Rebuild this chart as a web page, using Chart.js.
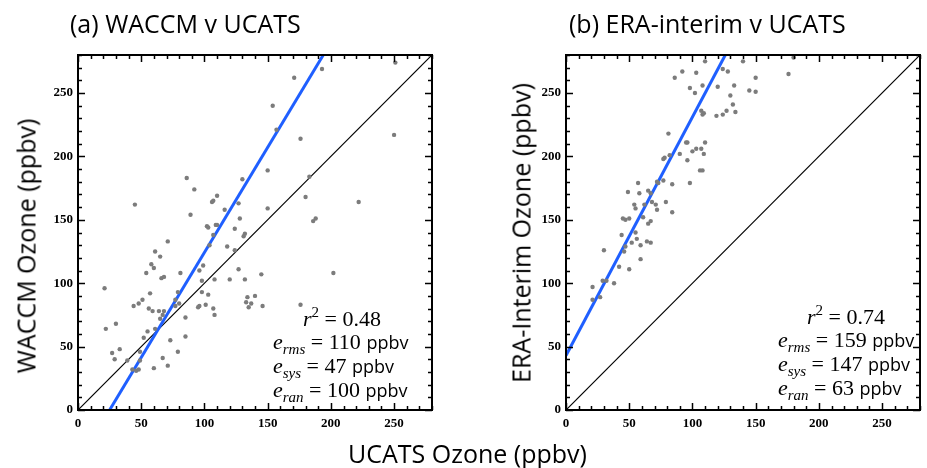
<!DOCTYPE html>
<html>
<head>
<meta charset="utf-8">
<script src="https://cdn.jsdelivr.net/npm/chart.js@4.4.0/dist/chart.umd.min.js"></script>
<style>
  body { margin: 0; background: #fff; }
  #page { position: relative; width: 927px; height: 468px; overflow: hidden; font-family: "Open Sans", sans-serif; color: #000; }
  canvas { position: absolute; top: 0; }
  #chartA { left: 0; }
  #chartB { left: 470px; }
  .title { position: absolute; font-size: 25px; line-height: 1; white-space: nowrap; }
  .ytitle { position: absolute; font-size: 25px; line-height: 1; white-space: nowrap; transform: translate(-50%, -50%) rotate(-90deg); }
  .stat { position: absolute; white-space: nowrap; font-family: "Liberation Serif", serif; font-size: 22px; line-height: 1; }
  .stat i { font-style: italic; }
  .stat sub { font-size: 15px; font-style: italic; vertical-align: -5px; line-height: 0; }
  .stat sup { font-size: 15px; vertical-align: 9px; line-height: 0; }
  .stat .u { font-family: "Open Sans", sans-serif; font-size: 18px; }
</style>
</head>
<body>
<div id="page">
  <canvas id="chartA" width="463" height="468"></canvas>
  <canvas id="chartB" width="457" height="468"></canvas>

  <div class="title" style="left:70px; top:11px;">(a) WACCM v UCATS</div>
  <div class="title" style="left:569px; top:11px;">(b) ERA-interim v UCATS</div>
  <div class="title" style="left:348px; top:441px;">UCATS Ozone (ppbv)</div>
  <div class="ytitle" style="left:26px; top:246px;">WACCM Ozone (ppbv)</div>
  <div class="ytitle" style="left:521px; top:233px;">ERA-Interim Ozone (ppbv)</div>

  <div class="stat" style="left:303px; top:308px;"><i>r</i><sup>2</sup> = 0.48</div>
  <div class="stat" style="left:273px; top:331px;"><i>e</i><sub>rms</sub> = 110 <span class="u">ppbv</span></div>
  <div class="stat" style="left:273px; top:355px;"><i>e</i><sub>sys</sub> = 47 <span class="u">ppbv</span></div>
  <div class="stat" style="left:273px; top:379px;"><i>e</i><sub>ran</sub> = 100 <span class="u">ppbv</span></div>

  <div class="stat" style="left:807px; top:306px;"><i>r</i><sup>2</sup> = 0.74</div>
  <div class="stat" style="left:778px; top:329px;"><i>e</i><sub>rms</sub> = 159 <span class="u">ppbv</span></div>
  <div class="stat" style="left:778px; top:353px;"><i>e</i><sub>sys</sub> = 147 <span class="u">ppbv</span></div>
  <div class="stat" style="left:778px; top:377px;"><i>e</i><sub>ran</sub> = 63 <span class="u">ppbv</span></div>
</div>

<script>
// Panel (a): UCATS vs WACCM ozone (ppbv)
const ucatsA = [45, 86, 92, 89, 102, 103, 110, 106, 107, 109, 110, 116, 107, 130, 127, 128, 124, 132, 131,
  150, 150, 154, 157, 171, 176, 193, 251, 250, 183, 180, 222, 188, 186, 202, 176,
  71, 21, 22, 30, 27, 33, 29, 39, 44, 48, 51, 54, 57, 58, 60, 61, 65, 56, 59, 55, 52, 64, 66, 68, 68, 67, 65, 61,
  49, 49, 46, 48, 43, 60, 67, 71, 73, 79, 77, 77, 80, 81, 85, 85, 79, 96, 99, 98, 98, 96, 95, 101, 103, 107, 108,
  108, 104, 118, 124, 120, 127, 132, 134, 133, 135, 137, 140, 145, 146];
const waccm = [162, 183, 174, 154, 145, 144, 169, 164, 165, 146, 146, 158, 138, 182, 163, 151, 143, 139, 137,
  189, 159, 240, 221, 262, 214, 269, 274, 217, 184, 168, 164, 151, 149, 108, 83,
  133, 96, 64, 68, 45, 48, 40, 39, 82, 84, 87, 108, 92, 115, 112, 125, 121, 80, 78, 62, 57, 78, 104, 105, 78, 75, 72, 64,
  46, 39, 31, 32, 32, 33, 41, 35, 55, 93, 87, 82, 84, 108, 73, 58, 46, 110, 114, 102, 93, 82, 81, 83, 91, 80, 75,
  103, 130, 129, 126, 103, 111, 103, 89, 85, 81, 84, 90, 107, 82];
const fitAx = [25, 194];
const fitAy = [0, 280];

// Panel (b): UCATS vs ERA-Interim ozone (ppbv)
const ucatsB = [86, 81, 82, 77, 78, 90, 77, 72, 73, 57, 49, 58, 65, 67, 68, 62, 71, 72, 79, 84, 84, 54, 55, 45, 47,
  50, 61, 65, 67, 55, 44, 56,
  110, 140, 180, 92, 103, 124, 128, 176, 150, 108, 120, 133, 98, 102, 145, 150, 130, 132, 127, 134, 107, 108, 109,
  119, 124, 95, 96, 110, 100, 103, 107, 109, 96, 106, 108, 98,
  30, 21, 21, 27, 29, 32, 38, 42, 50, 46, 47, 52, 59, 59, 64, 67];
const era = [262, 218, 201, 198, 199, 202, 181, 180, 179, 179, 172, 171, 173, 171, 164, 162, 162, 158, 164, 178, 156,
  162, 159, 151, 150, 151, 152, 147, 149, 140, 138, 135,
  275, 275, 278, 267, 266, 269, 267, 265, 262, 256, 255, 256, 254, 250, 252, 251, 248, 241, 236, 235, 236, 233, 234,
  232, 233, 211, 211, 211, 204, 206, 206, 202, 197, 189, 189, 179,
  126, 97, 87, 89, 102, 102, 100, 113, 111, 125, 129, 132, 119, 130, 133, 132];
const fitBx = [0, 126];
const fitBy = [43, 280];

// 1:1 reference line
const oneToOne = [0, 280];

const axisMin = 0;
const axisMax = 280;

const tickFont = { family: "'Liberation Serif', 'Times New Roman', serif", weight: 'bold', size: 13 };

// Closed frame with inward tick marks on all four sides
const frameTicks = {
  id: 'frameTicks',
  afterDatasetsDraw(chart) {
    const { ctx, chartArea: a, scales: { x, y } } = chart;
    ctx.save();
    ctx.strokeStyle = '#000';
    ctx.lineWidth = 1.5;
    ctx.beginPath();
    x.ticks.forEach(t => {
      const px = Math.round(x.getPixelForValue(t.value)) + 0.5;
      const len = t.value % 50 === 0 ? 7 : 4;
      ctx.moveTo(px, a.bottom); ctx.lineTo(px, a.bottom - len);
      ctx.moveTo(px, a.top); ctx.lineTo(px, a.top + len);
    });
    y.ticks.forEach(t => {
      const py = Math.round(y.getPixelForValue(t.value)) + 0.5;
      const len = t.value % 50 === 0 ? 7 : 4;
      ctx.moveTo(a.left, py); ctx.lineTo(a.left + len, py);
      ctx.moveTo(a.right, py); ctx.lineTo(a.right - len, py);
    });
    ctx.stroke();
    ctx.lineWidth = 2;
    ctx.strokeRect(a.left, a.top, a.right - a.left, a.bottom - a.top);
    ctx.restore();
  }
};

function toPoints(xs, ys) {
  return xs.map((v, i) => ({ x: v, y: ys[i] }));
}

function makePanel(id, xs, ys, fx, fy, axisWidth, rightPad) {
  new Chart(document.getElementById(id), {
    type: 'scatter',
    data: {
      datasets: [
        {
          data: toPoints(xs, ys),
          pointRadius: 2.2,
          pointBackgroundColor: '#7c7c7c',
          pointBorderWidth: 0
        },
        {
          data: toPoints(fx, fy),
          showLine: true,
          pointRadius: 0,
          borderColor: '#1f5fff',
          borderWidth: 3
        },
        {
          data: toPoints(oneToOne, oneToOne),
          showLine: true,
          pointRadius: 0,
          borderColor: '#000',
          borderWidth: 1.2
        }
      ]
    },
    options: {
      responsive: false,
      animation: false,
      layout: { padding: { top: 55, right: rightPad, bottom: 34, left: 0 } },
      plugins: { legend: { display: false }, tooltip: { enabled: false } },
      scales: {
        x: {
          type: 'linear',
          min: axisMin,
          max: axisMax,
          grid: { display: false, drawTicks: false },
          border: { display: false },
          ticks: {
            stepSize: 10,
            autoSkip: false,
            maxRotation: 0,
            padding: 6,
            color: '#000',
            font: tickFont,
            callback: v => (v % 50 === 0 && v < axisMax ? v : '')
          },
          afterFit: s => { s.height = 24; }
        },
        y: {
          type: 'linear',
          min: axisMin,
          max: axisMax,
          grid: { display: false, drawTicks: false },
          border: { display: false },
          ticks: {
            stepSize: 10,
            autoSkip: false,
            padding: 5,
            color: '#000',
            font: tickFont,
            callback: v => (v % 50 === 0 && v < axisMax ? v : '')
          },
          afterFit: s => { s.width = axisWidth; }
        }
      }
    },
    plugins: [frameTicks]
  });
}

makePanel('chartA', ucatsA, waccm, fitAx, fitAy, 78, 31);
makePanel('chartB', ucatsB, era, fitBx, fitBy, 96, 7);
</script>
</body>
</html>
